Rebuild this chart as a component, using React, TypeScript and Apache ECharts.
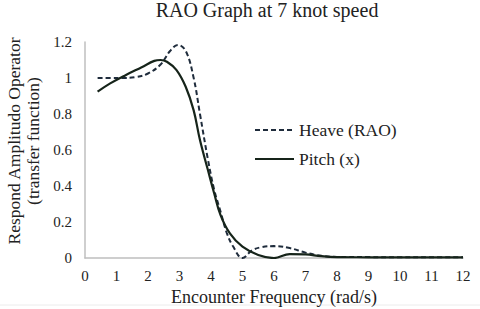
import React, { useEffect, useRef } from "react";
import * as echarts from "echarts";

const heaveX = [0.4, 0.8, 1.2, 1.6, 2.0, 2.4, 2.7, 2.95, 3.2, 3.45, 3.65, 3.9, 4.1, 4.3, 4.5, 4.7, 5.0, 5.3, 5.6, 6.0, 6.5, 7.0, 7.5, 8.0, 9, 10, 11, 12];
const heaveY = [1.0, 1.0, 1.0, 1.005, 1.025, 1.075, 1.15, 1.183, 1.15, 1.0, 0.8, 0.55, 0.38, 0.26, 0.14, 0.065, 0.0, 0.042, 0.06, 0.066, 0.055, 0.03, 0.012, 0.006, 0.005, 0.004, 0.004, 0.004];

const pitchX = [0.4, 0.8, 1.3, 1.8, 2.2, 2.4, 2.6, 2.9, 3.2, 3.45, 3.65, 3.9, 4.1, 4.3, 4.6, 5.0, 5.5, 6.0, 6.5, 7.0, 7.5, 8.0, 9, 10, 11, 12];
const pitchY = [0.924, 0.97, 1.017, 1.06, 1.095, 1.1, 1.09, 1.045, 0.95, 0.82, 0.655, 0.49, 0.36, 0.24, 0.137, 0.063, 0.017, 0.0, 0.022, 0.02, 0.01, 0.005, 0.004, 0.003, 0.003, 0.003];

const seriesNames = ["Heave (RAO)", "Pitch (x)"];
const titleText = "RAO Graph at 7 knot speed";
const xName = "Encounter Frequency (rad/s)";
const yName = "Respond Amplitudo Operator\n(transfer function)";

const FONT = "'Liberation Serif', 'Times New Roman', serif";

export default function App() {
  const ref = useRef<HTMLDivElement>(null);
  useEffect(() => {
    if (!ref.current) return;
    const chart = echarts.init(ref.current, undefined, { renderer: "svg" });
    const heave = heaveX.map((x, i) => [x, heaveY[i]]);
    const pitch = pitchX.map((x, i) => [x, pitchY[i]]);
    chart.setOption({
      animation: false,
      backgroundColor: "#ffffff",
      textStyle: { fontFamily: FONT },
      title: {
        text: titleText,
        left: 262,
        top: -5,
        textAlign: "center",
        textStyle: { fontFamily: FONT, fontSize: 20, fontWeight: "normal", color: "#222" },
      },
      legend: {
        orient: "vertical",
        left: 249,
        top: 116,
        itemWidth: 39,
        itemHeight: 14,
        itemGap: 11,
        data: seriesNames,
        itemStyle: { opacity: 0 },
        textStyle: { fontFamily: FONT, fontSize: 17.5, color: "#222" },
      },
      grid: { left: 85, right: 17, top: 42, bottom: 51, outerBoundsMode: "none" },
      xAxis: {
        type: "value",
        min: 0,
        max: 12,
        interval: 1,
        name: xName,
        nameLocation: "middle",
        nameGap: 18,
        nameTextStyle: { fontFamily: FONT, fontSize: 18, color: "#222" },
        axisLine: { show: true, lineStyle: { color: "#bfbfbf", width: 1.5 } },
        axisTick: { show: false },
        splitLine: { show: false },
        axisLabel: { fontFamily: FONT, fontSize: 15, color: "#222", margin: 10 },
      },
      yAxis: {
        type: "value",
        min: 0,
        max: 1.2,
        interval: 0.2,
        name: yName,
        nameLocation: "middle",
        nameGap: 34,
        nameTextStyle: {
          fontFamily: FONT,
          fontSize: 17.5,
          color: "#222",
          lineHeight: 19,
          padding: [0, 0, 0, 18],
        },
        axisLine: { show: true, lineStyle: { color: "#bfbfbf", width: 1.5 } },
        axisTick: { show: false },
        splitLine: { show: false },
        axisLabel: {
          fontFamily: FONT,
          fontSize: 15,
          color: "#222",
          margin: 13,
          formatter: (v: number) => String(Math.round(v * 10) / 10),
        },
      },
      series: [
        {
          name: seriesNames[0],
          type: "line",
          data: heave,
          smooth: 0.4,
          showSymbol: false,
          symbol: "none",
          lineStyle: { color: "#1f2c3c", width: 2, type: [5, 3] },
          itemStyle: { color: "#1f2c3c" },
        },
        {
          name: seriesNames[1],
          type: "line",
          data: pitch,
          smooth: 0.4,
          showSymbol: false,
          symbol: "none",
          lineStyle: { color: "#16241a", width: 2.2 },
          itemStyle: { color: "#16241a" },
        },
      ],
      graphic: [
        {
          type: "line",
          shape: { x1: 0, y1: 305, x2: 480, y2: 305 },
          style: { stroke: "#ececec", lineWidth: 1 },
        },
      ],
    });
    return () => chart.dispose();
  }, []);
  return (
    <div
      ref={ref}
      style={{ position: "fixed", left: 0, top: 0, width: 480, height: 309 }}
    />
  );
}
